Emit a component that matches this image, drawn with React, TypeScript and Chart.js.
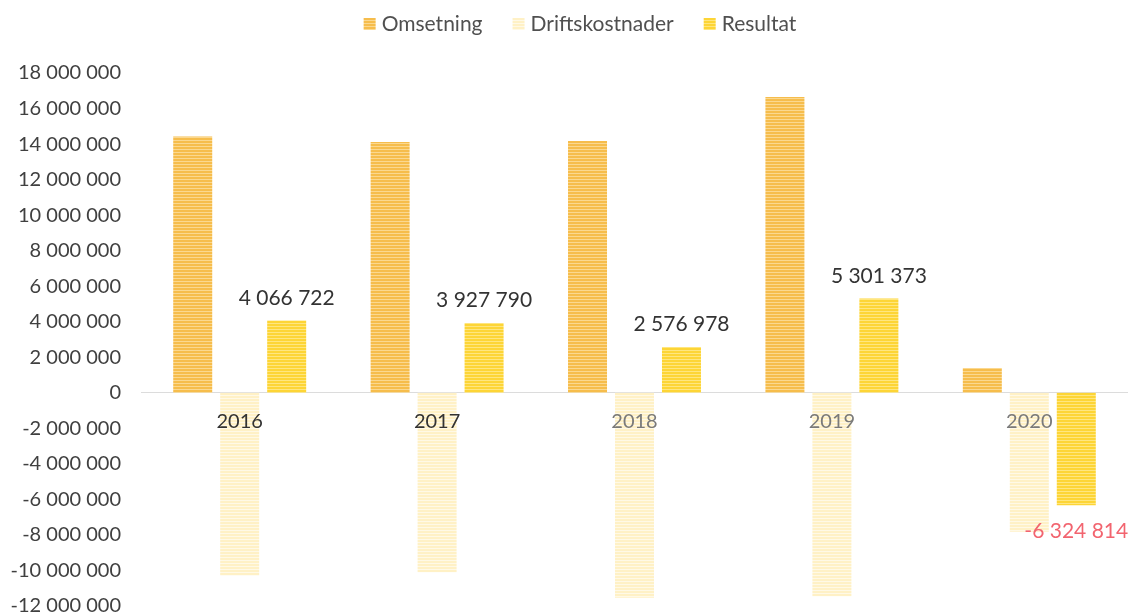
import React, { useEffect, useRef } from 'react';
import { Chart, registerables } from 'chart.js';

Chart.register(...registerables);

// ---- data ----
const categories = ['2016', '2017', '2018', '2019', '2020'];
const seriesLabels = ['Omsetning', 'Driftskostnader', 'Resultat'];
const omsetning = [14420000, 14120000, 14170000, 16650000, 1400000];
const driftskostnader = [-10280000, -10100000, -11540000, -11450000, -7820000];
const resultat = [4066722, 3927790, 2576978, 5301373, -6324814];
const yMin = -12000000;
const yMax = 18000000;
const yStep = 2000000;

// ---- styles ----
const FONT = 'Lato';
const barBase = ['#F6BD4C', '#FFF1C6', '#FDD536'];
const barLine = ['#FBD88F', '#FFF9E6', '#FFE67E'];
const xTickColors = ['#333333', '#333333', '#7a7a7a', '#7a7a7a', '#7a7a7a'];

function fmt(v: number): string {
  const s = String(Math.round(Math.abs(v))).replace(/\B(?=(\d{3})+(?!\d))/g, ' ');
  return (v < 0 ? '-' : '') + s;
}

function stripes(base: string, line: string): CanvasPattern | string {
  const c = document.createElement('canvas');
  c.width = 4;
  c.height = 3;
  const g = c.getContext('2d');
  if (!g) return base;
  g.fillStyle = base;
  g.fillRect(0, 0, 4, 3);
  g.fillStyle = line;
  g.fillRect(0, 2, 4, 1);
  return g.createPattern(c, 'repeat') || base;
}

const resultLabelPlugin = {
  id: 'resultLabels',
  afterDatasetsDraw(chart: any) {
    const meta = chart.getDatasetMeta(2);
    const ctx = chart.ctx;
    ctx.save();
    ctx.font = `21px ${FONT}`;
    ctx.textAlign = 'center';
    ctx.textBaseline = 'alphabetic';
    meta.data.forEach((bar: any, i: number) => {
      const v = resultat[i];
      if (v >= 0) {
        ctx.fillStyle = '#333333';
        ctx.fillText(fmt(v), bar.x, bar.y - 16);
      } else {
        ctx.fillStyle = '#F2646F';
        ctx.fillText(fmt(v), bar.x, bar.y + 33);
      }
    });
    ctx.restore();
  },
};

const customLegendPlugin = {
  id: 'customLegend',
  afterDraw(chart: any) {
    const ctx = chart.ctx;
    ctx.save();
    ctx.font = `21px ${FONT}`;
    const box = 12;
    const gap = 6;
    const itemGap = 30;
    const widths = seriesLabels.map((l) => ctx.measureText(l).width);
    const total = widths.reduce((a, w) => a + box + gap + w, 0) + itemGap * (seriesLabels.length - 1);
    let x = 580 - total / 2;
    const baseline = 31;
    seriesLabels.forEach((l, i) => {
      ctx.fillStyle = chart.data.datasets[i].backgroundColor;
      ctx.fillRect(x, baseline - 13, box, box);
      x += box + gap;
      ctx.fillStyle = '#505050';
      ctx.textAlign = 'left';
      ctx.textBaseline = 'alphabetic';
      ctx.fillText(l, x, baseline);
      x += widths[i] + itemGap;
    });
    ctx.restore();
  },
};

export default function App() {
  const ref = useRef<HTMLCanvasElement | null>(null);

  useEffect(() => {
    document.body.style.margin = '0';
    const canvas = ref.current;
    if (!canvas) return;
    Chart.defaults.font.family = FONT;
    const values = [omsetning, driftskostnader, resultat];
    const chart = new Chart(canvas, {
      type: 'bar',
      data: {
        labels: categories,
        datasets: seriesLabels.map((label, i) => ({
          label,
          data: values[i],
          backgroundColor: stripes(barBase[i], barLine[i]),
          borderWidth: 0,
          barPercentage: 0.83,
          categoryPercentage: 0.714,
        })),
      },
      options: {
        animation: false,
        responsive: false,
        devicePixelRatio: 1,
        layout: { padding: { top: 73, right: 0, bottom: 0, left: 0 } },
        plugins: {
          legend: { display: false },
          tooltip: { enabled: false },
        },
        scales: {
          x: {
            position: { y: 0 } as any,
            grid: { display: false, drawTicks: false },
            border: { display: true, color: '#dcdcdc', width: 1 },
            ticks: {
              z: 1,
              padding: 17,
              maxRotation: 0,
              autoSkip: false,
              font: { size: 20, family: FONT },
              color: (c: any) => xTickColors[c.index] || '#333333',
            },
          },
          y: {
            min: yMin,
            max: yMax,
            grid: { display: false, drawTicks: false },
            border: { display: false },
            ticks: {
              stepSize: yStep,
              padding: 20,
              font: { size: 20, family: FONT },
              color: '#404040',
              callback: (v: any) => fmt(Number(v)),
            },
            afterFit: (scale: any) => {
              scale.width = 141;
              scale.paddingTop = 0;
              scale.paddingBottom = 8;
            },
          },
        },
      },
      plugins: [resultLabelPlugin, customLegendPlugin],
    });
    return () => chart.destroy();
  }, []);

  return (
    <div style={{ width: 1128, height: 614 }}>
      <canvas ref={ref} width={1128} height={614} style={{ display: 'block' }} />
    </div>
  );
}
